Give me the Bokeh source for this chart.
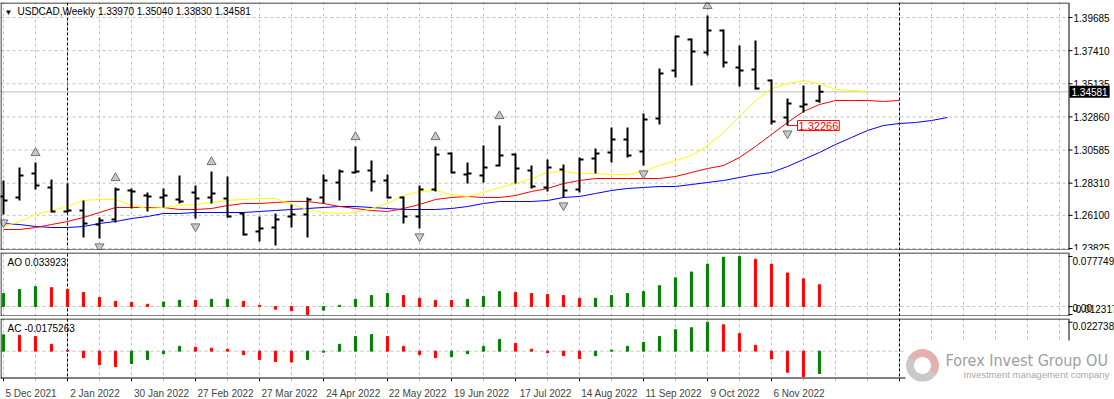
from bokeh.plotting import figure
from bokeh.layouts import column
from bokeh.models import LinearAxis, FixedTicker, Grid, Label, Range1d
from bokeh.core.properties import value
from bokeh.embed import file_html
from bokeh.resources import INLINE

# ---------------- data ----------------
title_text = "USDCAD,Weekly  1.33970 1.35040 1.33830 1.34581"
ao_title = "AO 0.033923"
ac_title = "AC -0.0175263"
last_price = 1.34581
marked_price = 1.32266
marked_bar = 49

date_labels = ["5 Dec 2021", "2 Jan 2022", "30 Jan 2022", "27 Feb 2022", "27 Mar 2022",
               "24 Apr 2022", "22 May 2022", "19 Jun 2022", "17 Jul 2022", "14 Aug 2022",
               "11 Sep 2022", "9 Oct 2022", "6 Nov 2022"]
date_label_bars = [0, 4, 8, 12, 16, 20, 24, 28, 32, 36, 40, 44, 48]
year_separators = [4, 56]

price_ticks = [1.39685, 1.37410, 1.35135, 1.32860, 1.30585, 1.28310, 1.26100, 1.23825]

opens = [1.27395, 1.27326, 1.28974, 1.28013, 1.26365, 1.26434, 1.25472, 1.25816, 1.27807, 1.27464,
         1.27326, 1.27189, 1.27670, 1.27326, 1.27258, 1.26228, 1.24992, 1.25266, 1.26022, 1.26159,
         1.27326, 1.28356, 1.29043, 1.29180, 1.28493, 1.27326, 1.26022, 1.27875, 1.30347, 1.28905,
         1.28837, 1.29523, 1.30279, 1.29180, 1.28013, 1.29249, 1.27875, 1.30004, 1.30416, 1.31309,
         1.30485, 1.32750, 1.36046, 1.38174, 1.37282, 1.38792, 1.36252, 1.36115, 1.35359, 1.32819,
         1.33574, 1.33970]
highs = [1.28493, 1.29386, 1.29729, 1.28562, 1.28287, 1.27120, 1.25953, 1.28013, 1.27944, 1.27670,
         1.27944, 1.28837, 1.28150, 1.29111, 1.28768, 1.26296, 1.26022, 1.26228, 1.26846, 1.27326,
         1.28905, 1.29249, 1.30828, 1.29867, 1.28905, 1.27395, 1.28150, 1.30828, 1.30416, 1.29729,
         1.30897, 1.32270, 1.30347, 1.29523, 1.29935, 1.29592, 1.30073, 1.30690, 1.32132, 1.32132,
         1.33094, 1.36183, 1.38449, 1.38243, 1.39822, 1.38861, 1.37763, 1.38106, 1.35428, 1.34124,
         1.35016, 1.35040]
lows = [1.26159, 1.27120, 1.27875, 1.26296, 1.26296, 1.24580, 1.24511, 1.25610, 1.26571, 1.26365,
        1.26640, 1.26914, 1.25884, 1.26914, 1.25953, 1.24717, 1.24305, 1.24030, 1.25266, 1.24580,
        1.26914, 1.27120, 1.28974, 1.27738, 1.27258, 1.25541, 1.25198, 1.27738, 1.28974, 1.28287,
        1.28356, 1.29455, 1.28287, 1.27944, 1.27738, 1.27326, 1.27670, 1.28974, 1.29729, 1.30073,
        1.29523, 1.32338, 1.35565, 1.35016, 1.37076, 1.36252, 1.34947, 1.34742, 1.32338, 1.32266,
        1.33162, 1.33830]
closes = [1.27120, 1.28837, 1.28150, 1.26365, 1.26434, 1.25541, 1.25747, 1.27875, 1.27738, 1.27395,
          1.27464, 1.27052, 1.27258, 1.27601, 1.26022, 1.24786, 1.25198, 1.25816, 1.26159, 1.27189,
          1.28493, 1.29111, 1.29111, 1.28425, 1.27326, 1.26022, 1.27875, 1.30279, 1.29043, 1.28974,
          1.29386, 1.30210, 1.29317, 1.28081, 1.29386, 1.27807, 1.29935, 1.30347, 1.31309, 1.30210,
          1.32682, 1.35840, 1.38380, 1.37351, 1.38792, 1.36595, 1.36046, 1.34810, 1.32544, 1.33780,
          1.33712, 1.34581]

# Alligator lines (lips yellow, teeth red, jaw blue), incl. forward shift
lips = [1.25335, 1.25678, 1.26159, 1.26434, 1.26708, 1.27120, 1.27189, 1.27189, 1.26777, 1.26571,
        1.26640, 1.26777, 1.26846, 1.26983, 1.27120, 1.27189, 1.27258, 1.27258, 1.26846, 1.26503,
        1.26296, 1.26228, 1.26296, 1.26571, 1.26914, 1.27464, 1.27738, 1.27807, 1.27532, 1.27395,
        1.27670, 1.28013, 1.28287, 1.28631, 1.29043, 1.29111, 1.28974, 1.28974, 1.28905, 1.28905,
        1.29111, 1.29523, 1.29867, 1.30210, 1.30897, 1.31789, 1.32888, 1.33986, 1.34810, 1.35153,
        1.35359, 1.35153, 1.34742, 1.34673, 1.34604]
teeth = [1.25129, 1.25129, 1.25266, 1.25472, 1.25678, 1.25953, 1.26296, 1.26640, 1.26640, 1.26640,
         1.26640, 1.26503, 1.26503, 1.26571, 1.26777, 1.26914, 1.26914, 1.26983, 1.27052, 1.27052,
         1.26914, 1.26708, 1.26571, 1.26434, 1.26365, 1.26571, 1.26846, 1.27189, 1.27326, 1.27395,
         1.27326, 1.27326, 1.27464, 1.27738, 1.27944, 1.28287, 1.28493, 1.28631, 1.28631, 1.28631,
         1.28631, 1.28631, 1.28768, 1.29043, 1.29317, 1.29523, 1.30073, 1.30828, 1.31652, 1.32476,
         1.33231, 1.33712, 1.33986, 1.33986, 1.33986, 1.33918, 1.33986]
jaw = [1.25541, 1.25472, 1.25335, 1.25266, 1.25266, 1.25335, 1.25541, 1.25678, 1.25884, 1.26022,
       1.26228, 1.26228, 1.26296, 1.26296, 1.26296, 1.26296, 1.26365, 1.26434, 1.26503, 1.26571,
       1.26640, 1.26708, 1.26708, 1.26640, 1.26571, 1.26503, 1.26503, 1.26503, 1.26571, 1.26708,
       1.26914, 1.27052, 1.27052, 1.27052, 1.27120, 1.27326, 1.27395, 1.27601, 1.27807, 1.27944,
       1.28013, 1.28081, 1.28081, 1.28219, 1.28356, 1.28493, 1.28700, 1.28905, 1.29043, 1.29455,
       1.29935, 1.30416, 1.30965, 1.31446, 1.31926, 1.32270, 1.32407, 1.32476, 1.32613, 1.32819]

fractal_up_bars = [2, 7, 13, 22, 27, 31, 44]
fractal_down_bars = [0, 6, 12, 17, 26, 35, 40, 49]

ao = [0.0203, 0.0264, 0.0309, 0.0294, 0.0264, 0.0218, 0.0142, 0.0081, 0.0066, 0.0035,
      0.0071, 0.0098, 0.0096, 0.0112, 0.0113, 0.0081, 0.0020, -0.0041, -0.0066, -0.012317,
      -0.0056, 0.0020, 0.0112, 0.0172, 0.0203, 0.0172, 0.0127, 0.0096, 0.0094, 0.0112,
      0.0157, 0.0233, 0.0218, 0.0203, 0.0188, 0.0172, 0.0127, 0.0129, 0.0172, 0.0203,
      0.0233, 0.0324, 0.0446, 0.0537, 0.0659, 0.0766, 0.077749, 0.0735, 0.0659, 0.0522,
      0.0431, 0.033923]
ac = [0.0128, 0.0125, 0.0115, 0.0054, 0.0005, -0.0051, -0.0107, -0.0122, -0.0097, -0.0066,
      -0.0020, 0.0038, 0.0031, 0.0023, 0.0015, -0.0028, -0.0066, -0.0082, -0.0085, -0.0066,
      -0.0008, 0.0054, 0.0115, 0.0130, 0.0115, 0.0038, -0.0028, -0.0051, -0.0043, -0.0020,
      0.0038, 0.0092, 0.0061, 0.0015, -0.0013, -0.0036, -0.0059, -0.0036, 0.0008, 0.0038,
      0.0069, 0.0115, 0.0168, 0.0184, 0.0227389, 0.0207, 0.0138, 0.0046, -0.0061, -0.0166,
      -0.0199, -0.0175263]
ao_scale_values = [0.077749, 0.0, -0.012317]
ao_scale_labels = ["0.077749", "0.00", "-0.012317"]
ac_scale_values = [0.0227389]
ac_scale_labels = ["0.0227389"]

# ---------------- layout / style ----------------
W = 1114
PPB = 16.0                 # pixels per weekly bar
X0 = -0.1875               # left frame edge, in bars
XA = 66.5625               # price-scale line, in bars
XE = X0 + W / PPB          # right edge of the canvas
FONT = "Liberation Sans"
GRID = "#c0c0c0"
UP, DN = "#008000", "#ff0000"


def colors_of(vals):
    cols = [UP]
    for k in range(1, len(vals)):
        cols.append(UP if vals[k] > vals[k - 1] else DN)
    return cols


def make_fig(fh, y0, y1, gb0, gb1, bottom=0):
    p = figure(frame_width=W, frame_height=fh, x_range=Range1d(X0, XE), y_range=Range1d(y0, y1),
               x_axis_location=None, y_axis_location=None, toolbar_location=None,
               output_backend="svg", min_border_left=0, min_border_right=0,
               min_border_top=2, min_border_bottom=bottom)
    p.center = []
    p.outline_line_color = None
    p.background_fill_color = "white"
    p.border_fill_color = "white"
    p.add_layout(Grid(dimension=0, ticker=FixedTicker(ticks=list(range(0, 67, 2))),
                      grid_line_color=GRID, grid_line_dash="3 3", bounds=(gb0, gb1)))
    p.add_layout(Grid(dimension=0, ticker=FixedTicker(ticks=year_separators),
                      grid_line_color="black", grid_line_dash="3 2", bounds=(gb0, gb1)))
    return p


def frame_lines(p, ppx, y0, y1):
    hx = 0.5 / PPB
    p.segment(x0=[X0, X0, X0 + hx, XA + hx], y0=[y1 - 0.5 * ppx, y0 + 0.5 * ppx, y0, y0],
              x1=[XA, XA, X0 + hx, XA + hx], y1=[y1 - 0.5 * ppx, y0 + 0.5 * ppx, y1, y1],
              line_color="black", line_width=1)


def hlines(p, ys, color=GRID, dash="3 3"):
    p.segment(x0=[X0] * len(ys), y0=ys, x1=[XA] * len(ys), y1=ys, line_color=color,
              line_width=1, line_dash=dash)


def scale_ticks(p, ys):
    p.segment(x0=[XA] * len(ys), y0=ys, x1=[XA + 4 / PPB] * len(ys), y1=ys,
              line_color="black", line_width=1)


def label(p, x, y, text, **kw):
    opts = dict(text_color="black", text_font=FONT, text_font_size="10px")
    opts.update(kw)
    p.add_layout(Label(x=x, y=y, text=text, **opts))


# ---- main price panel ----
MH = 248
PY0, PY1 = 1.23687, 1.40715
pm = make_fig(MH, PY0, PY1, PY0, PY1)
pp = (PY1 - PY0) / MH
hlines(pm, price_ticks)
hlines(pm, [last_price], dash="solid")

pm.line(list(range(len(jaw))), jaw, line_color="#0000ff", line_width=1)
pm.line(list(range(len(teeth))), teeth, line_color="#ff0000", line_width=1)
pm.line(list(range(len(lips))), lips, line_color="#ffff00", line_width=1)

xs = list(range(len(opens)))
tk = 4.0 / PPB
pm.segment(x0=xs, y0=lows, x1=xs, y1=highs, line_color="black", line_width=2)
pm.segment(x0=[x - tk for x in xs], y0=opens, x1=xs, y1=opens, line_color="black", line_width=2)
pm.segment(x0=xs, y0=closes, x1=[x + tk for x in xs], y1=closes, line_color="black", line_width=2)

pm.scatter(x=fractal_up_bars, y=[highs[b] + 9.5 * pp for b in fractal_up_bars], marker="triangle",
           size=9, fill_color="#c8c8c8", line_color="#707070", line_width=1)
pm.scatter(x=fractal_down_bars, y=[lows[b] - 8 * pp for b in fractal_down_bars],
           marker="inverted_triangle", size=9, fill_color="#c8c8c8", line_color="#707070",
           line_width=1)

pm.segment(x0=[marked_bar], y0=[marked_price], x1=[marked_bar + 10 / PPB], y1=[marked_price],
           line_color="red", line_width=1)
label(pm, marked_bar, marked_price, f"{marked_price:.5f}", x_offset=10, text_color="red",
      text_font_size="11px", text_baseline="middle", border_line_color="red",
      background_fill_color="white", padding=1)

frame_lines(pm, pp, PY0, PY1)
scale_ticks(pm, price_ticks)
pm.text(x=[XA + 5 / PPB] * len(price_ticks), y=price_ticks, text=[f"{t:.5f}" for t in price_ticks],
        text_font=value(FONT), text_font_size="10px", text_baseline="middle", text_color="black")
label(pm, XA, last_price, f"{last_price:.5f}", x_offset=1, text_color="white",
      text_baseline="middle", background_fill_color="black", padding=2)

label(pm, X0, PY1, "\u25bc", x_offset=4, y_offset=-5, text_font_size="8px", text_baseline="top")
label(pm, X0, PY1, title_text, x_offset=17, y_offset=-3, text_baseline="top")

# ---- AO panel ----
AH = 64
AOY0, AOY1 = -0.015423, 0.083961
pao = make_fig(AH, AOY0, AOY1, AOY0, AOY1)
hlines(pao, [0.0])
pao.vbar(x=list(range(len(ao))), top=ao, bottom=0, width=2.2 / PPB, color=colors_of(ao))
frame_lines(pao, (AOY1 - AOY0) / AH, AOY0, AOY1)
scale_ticks(pao, ao_scale_values)
for v, t, off in zip(ao_scale_values, ao_scale_labels, [-4, -1, 5]):
    label(pao, XA, v, t, x_offset=4, y_offset=off, text_baseline="middle")
label(pao, X0, AOY1, ao_title, x_offset=7, y_offset=-4, text_baseline="top")

# ---- AC panel (frame reaches 3px below its border for the date tick marks) ----
CH = 60
ACY0, ACY1 = -0.02147, 0.02564
acpp = (ACY1 - ACY0) / CH
ACB = ACY0 - 3 * acpp
pac = make_fig(CH + 3, ACB, ACY1, ACY0, ACY1, bottom=18)
hlines(pac, [0.0])
pac.vbar(x=list(range(len(ac))), top=ac, bottom=0, width=2.2 / PPB, color=colors_of(ac))
frame_lines(pac, acpp, ACY0, ACY1)
pac.segment(x0=date_label_bars, y0=[ACY0] * len(date_label_bars), x1=date_label_bars,
            y1=[ACB] * len(date_label_bars), line_color="black", line_width=1)
scale_ticks(pac, ac_scale_values)
for v, t in zip(ac_scale_values, ac_scale_labels):
    label(pac, XA, v, t, x_offset=4, y_offset=-4, text_baseline="middle")
label(pac, X0, ACY1, ac_title, x_offset=7, y_offset=-4, text_baseline="top")

# date axis: each label starts just right of the bar it names
lab_pos = [b + (2 + 5.1 * len(s) / 2) / PPB for b, s in zip(date_label_bars, date_labels)]
xax = LinearAxis(ticker=FixedTicker(ticks=lab_pos),
                 major_label_overrides={p_: s for p_, s in zip(lab_pos, date_labels)})
xax.major_label_text_font = FONT
xax.major_label_text_font_size = "10px"
xax.major_tick_line_color = None
xax.minor_tick_line_color = None
xax.axis_line_color = None
xax.major_label_standoff = 0
pac.add_layout(xax, "below")

# watermark over the lower-right corner of the AC panel
wm_left = (905 - 3) / PPB
pac.quad(left=[wm_left], right=[XE + 1], bottom=[ACB - 1], top=[ACY1 - 22 * acpp],
         fill_color="white", line_color=None)
logo_x, logo_y = (922 - 3) / PPB, ACY1 - 47 * acpp
pac.annular_wedge(x=[logo_x], y=[logo_y], inner_radius=9, outer_radius=16,
                  inner_radius_units="screen", outer_radius_units="screen",
                  start_angle=-0.6, end_angle=2.6, color="#e6b0b0")
pac.annular_wedge(x=[logo_x], y=[logo_y], inner_radius=9, outer_radius=16,
                  inner_radius_units="screen", outer_radius_units="screen",
                  start_angle=2.6, end_angle=5.68, color="#c9c9c9")
label(pac, (945 - 3) / PPB, ACY1 - 42 * acpp, "Forex Invest Group OU", text_color="#a0a0a0",
      text_font="DejaVu Sans Condensed", text_font_size="16px", text_baseline="middle")
label(pac, (963 - 3) / PPB, ACY1 - 56 * acpp, "Investment management company",
      text_color="#a8a8a8", text_font_size="9.5px", text_baseline="middle")

layout = column(pm, pao, pac, spacing=0)
open("out.html", "w").write(file_html(layout, INLINE))
